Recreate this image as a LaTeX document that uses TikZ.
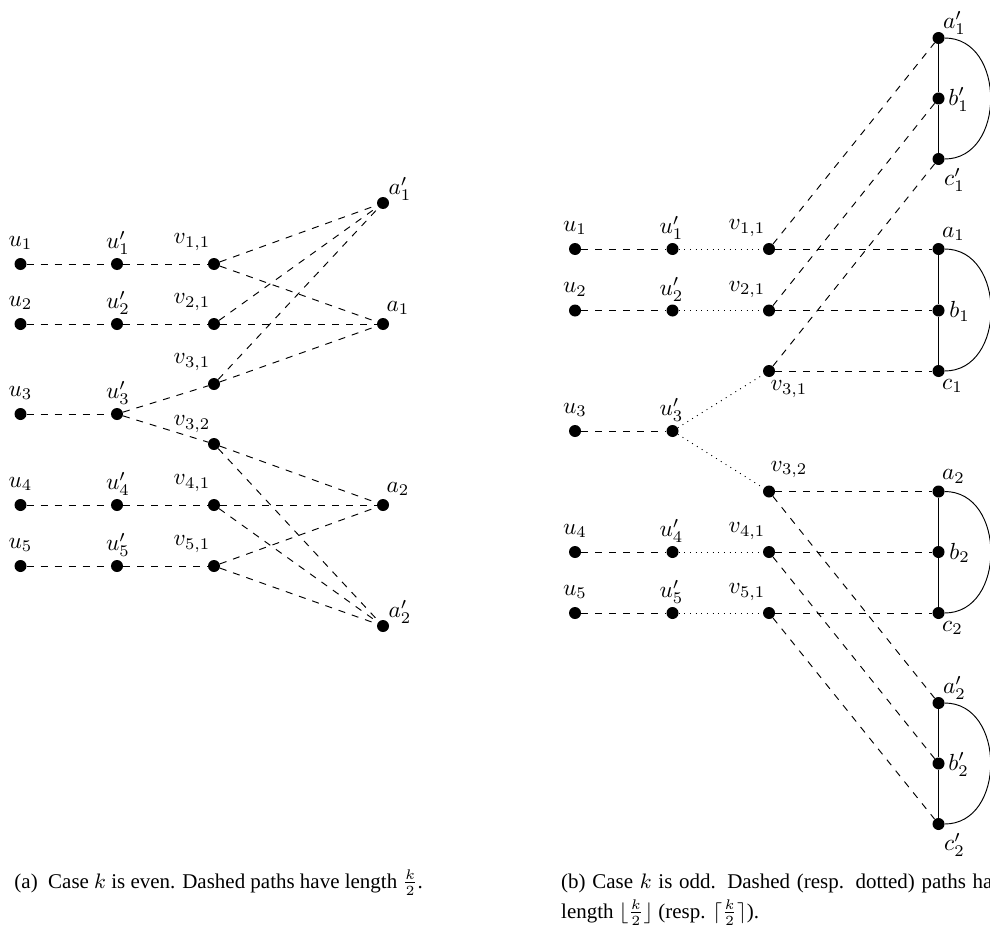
\documentclass[tikz,border=0pt]{standalone}
\usepackage[no-math]{fontspec}
\setmainfont{Liberation Serif}
\newcommand\vtx[6]{\node[dot] (#1) at (#2,#3) {};
  \node[lab] (#1l) at ([shift={(#4,#5)}]#1.center) {$#6$};}
\begin{document}
\begin{tikzpicture}[x=1pt,y=-1pt,
  dot/.style={circle,fill=black,inner sep=0pt,minimum size=12pt},
  lab/.style={inner sep=0pt,scale=2.33,font=\normalsize},
  dsh/.style={line width=0.95pt,dash pattern=on 7pt off 7pt},
  dtt/.style={line width=0.95pt,dash pattern=on 0.95pt off 4.7pt},
  sol/.style={line width=0.95pt},
  capt/.style={inner sep=0pt,scale=2.33,font=\fontsize{9}{12.9}\selectfont}]
\useasboundingbox (0,0) rectangle (990,931);
\clip (0,0) rectangle (990,931);
% ---------- (a) ----------
\vtx{Lu1}{20.5}{264}{0}{-21}{u_1}
\vtx{Lup1}{117}{264}{1}{-21}{u'_1}
\vtx{Lv11}{214}{264}{-22}{-22}{v_{1,1}}
\vtx{Lu2}{20.5}{324}{0}{-21}{u_2}
\vtx{Lup2}{117}{324}{1}{-21}{u'_2}
\vtx{Lv21}{214}{324}{-22}{-22}{v_{2,1}}
\vtx{Lu3}{20.5}{414}{0}{-21}{u_3}
\vtx{Lup3}{117}{414}{1}{-21}{u'_3}
\vtx{Lv31}{214}{384}{-22}{-22}{v_{3,1}}
\vtx{Lv32}{214}{444}{-22}{-20}{v_{3,2}}
\vtx{Lu4}{20.5}{505}{0}{-21}{u_4}
\vtx{Lup4}{117}{505}{1}{-21}{u'_4}
\vtx{Lv41}{214}{505}{-22}{-22}{v_{4,1}}
\vtx{Lu5}{20.5}{566}{0}{-21}{u_5}
\vtx{Lup5}{117}{566}{1}{-21}{u'_5}
\vtx{Lv51}{214}{566}{-22}{-22}{v_{5,1}}
\vtx{Lap1}{383}{203}{17}{-14}{a'_1}
\vtx{La1}{383}{324}{15}{-16}{a_1}
\vtx{La2}{383}{505}{15}{-16}{a_2}
\vtx{Lap2}{383}{626}{17}{-14}{a'_2}
\draw[dsh] (Lu1)--(Lup1)--(Lv11);
\draw[dsh] (Lu2)--(Lup2)--(Lv21);
\draw[dsh] (Lu3)--(Lup3);
\draw[dsh] (Lu4)--(Lup4)--(Lv41);
\draw[dsh] (Lu5)--(Lup5)--(Lv51);
\draw[dsh] (Lup3)--(Lv31);
\draw[dsh] (Lup3)--(Lv32);
\draw[dsh] (Lv11)--(Lap1);
\draw[dsh] (Lv11)--(La1);
\draw[dsh] (Lv21)--(Lap1);
\draw[dsh] (Lv21)--(La1);
\draw[dsh] (Lv31)--(Lap1);
\draw[dsh] (Lv31)--(La1);
\draw[dsh] (Lv32)--(La2);
\draw[dsh] (Lv32)--(Lap2);
\draw[dsh] (Lv41)--(La2);
\draw[dsh] (Lv41)--(Lap2);
\draw[dsh] (Lv51)--(La2);
\draw[dsh] (Lv51)--(Lap2);
% ---------- (b) ----------
\vtx{Ru1}{575}{249}{0}{-21}{u_1}
\vtx{Rup1}{672.5}{249}{-1}{-21}{u'_1}
\vtx{Rv11}{769}{249}{-22}{-21}{v_{1,1}}
\vtx{Ru2}{575}{310.5}{0}{-21}{u_2}
\vtx{Rup2}{672.5}{310.5}{-1}{-21}{u'_2}
\vtx{Rv21}{769}{310.5}{-22}{-21}{v_{2,1}}
\vtx{Ru3}{575}{431}{0}{-21}{u_3}
\vtx{Rup3}{672.5}{431}{-1}{-21}{u'_3}
\vtx{Rv31}{769}{371}{20}{18}{v_{3,1}}
\vtx{Rv32}{769}{491.5}{20}{-22}{v_{3,2}}
\vtx{Ru4}{575}{552}{0}{-21}{u_4}
\vtx{Rup4}{672.5}{552}{-1}{-21}{u'_4}
\vtx{Rv41}{769}{552}{-22}{-21}{v_{4,1}}
\vtx{Ru5}{575}{613}{0}{-21}{u_5}
\vtx{Rup5}{672.5}{613}{-1}{-21}{u'_5}
\vtx{Rv51}{769}{613}{-22}{-21}{v_{5,1}}
\vtx{Rap1}{938.5}{38}{16}{-15}{a'_1}
\vtx{Rbp1}{938.5}{98.5}{20}{1}{b'_1}
\vtx{Rcp1}{938.5}{159}{16}{21}{c'_1}
\vtx{Ra1}{938.5}{249}{15}{-15}{a_1}
\vtx{Rb1}{938.5}{310.5}{21}{1}{b_1}
\vtx{Rc1}{938.5}{371}{14}{15}{c_1}
\vtx{Ra2}{938.5}{491.5}{15}{-15}{a_2}
\vtx{Rb2}{938.5}{552}{21}{1}{b_2}
\vtx{Rc2}{938.5}{613}{14}{15}{c_2}
\vtx{Rap2}{938.5}{703}{16}{-15}{a'_2}
\vtx{Rbp2}{938.5}{763.5}{20}{1}{b'_2}
\vtx{Rcp2}{938.5}{824}{16}{21}{c'_2}
\draw[dsh] (Ru1)--(Rup1);
\draw[dsh] (Ru2)--(Rup2);
\draw[dsh] (Ru3)--(Rup3);
\draw[dsh] (Ru4)--(Rup4);
\draw[dsh] (Ru5)--(Rup5);
\draw[dtt] (Rup1)--(Rv11);
\draw[dtt] (Rup2)--(Rv21);
\draw[dtt] (Rup3)--(Rv31);
\draw[dtt] (Rup3)--(Rv32);
\draw[dtt] (Rup4)--(Rv41);
\draw[dtt] (Rup5)--(Rv51);
\draw[dsh] (Rv11)--(Ra1);
\draw[dsh] (Rv11)--(Rap1);
\draw[dsh] (Rv21)--(Rb1);
\draw[dsh] (Rv21)--(Rbp1);
\draw[dsh] (Rv31)--(Rc1);
\draw[dsh] (Rv31)--(Rcp1);
\draw[dsh] (Rv32)--(Ra2);
\draw[dsh] (Rv32)--(Rap2);
\draw[dsh] (Rv41)--(Rb2);
\draw[dsh] (Rv41)--(Rbp2);
\draw[dsh] (Rv51)--(Rc2);
\draw[dsh] (Rv51)--(Rcp2);
\foreach \p/\q/\r in {Rap1/Rbp1/Rcp1,Ra1/Rb1/Rc1,Ra2/Rb2/Rc2,Rap2/Rbp2/Rcp2}{
  \draw[sol] (\p)--(\q)--(\r);
  \draw[sol] (\p) to[out=0,in=0,looseness=1.3] (\r);
}
% ---------- captions ----------
\node[capt,anchor=base west] (capA) at (14,888)
  {(a)\hspace{4.5pt}Case $k$ is even. Dashed paths have length $\frac{k}{2}$.};
\node[capt,anchor=base west,text width=193.6pt,align=justify] (capB) at (560.7,888)
  {(b) Case $k$ is odd. Dashed (resp. dotted) paths have length $\lfloor\frac{k}{2}\rfloor$ (resp. $\lceil\frac{k}{2}\rceil$).};
\end{tikzpicture}
\end{document}
